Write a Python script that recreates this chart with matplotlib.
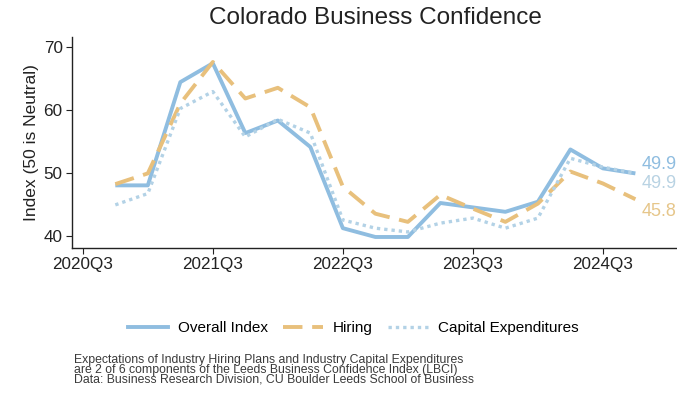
import matplotlib
matplotlib.use("Agg")
import matplotlib.pyplot as plt
from matplotlib.lines import Line2D

plt.rcParams['font.family'] = ['Liberation Sans', 'DejaVu Sans']

# Quarters 2020Q4 .. 2024Q4
quarters = ["2020Q4", "2021Q1", "2021Q2", "2021Q3", "2021Q4", "2022Q1", "2022Q2",
            "2022Q3", "2022Q4", "2023Q1", "2023Q2", "2023Q3", "2023Q4", "2024Q1",
            "2024Q2", "2024Q3", "2024Q4"]
overall = [48.0, 48.0, 64.4, 67.4, 56.3, 58.3, 54.1, 41.2, 39.8, 39.8, 45.2, 44.5,
           43.8, 45.4, 53.7, 50.7, 49.9]
hiring = [48.2, 49.9, 61.0, 67.6, 61.8, 63.5, 60.4, 47.8, 43.5, 42.2, 46.5, 44.3,
          42.2, 45.1, 50.2, 48.3, 45.8]
capex = [44.9, 46.7, 60.2, 62.9, 55.7, 58.5, 56.3, 42.5, 41.2, 40.6, 42.0, 42.8,
         41.2, 42.8, 52.3, 50.9, 49.9]
tick_labels = ["2020Q3", "2021Q3", "2022Q3", "2023Q3", "2024Q3"]
yticks = [40, 50, 60, 70]

def qnum(s):
    return int(s[:4]) + (int(s[-1]) - 1) / 4.0

x = [qnum(q) for q in quarters]
xt = [qnum(t) for t in tick_labels]

c_over = "#8fbde0"
c_hire = "#e8c07c"
c_cap = "#b3d2e6"

fig = plt.figure(figsize=(6.77, 4.0), dpi=100)
ax = fig.add_axes([0.106, 0.38, 0.894, 0.528])

ax.plot(x, overall, color=c_over, lw=2.8, solid_capstyle='butt')
ax.plot(x, hiring, color=c_hire, lw=2.8, dashes=(5, 2.5))
ax.plot(x, capex, color=c_cap, lw=2.4, linestyle=(0, (1, 1.2)))

ax.set_xlim(2020.415, 2025.07)
ax.set_ylim(38.05, 71.6)
ax.set_xticks(xt)
ax.set_xticklabels(tick_labels)
ax.set_yticks(yticks)
for s in ['top', 'right']:
    ax.spines[s].set_visible(False)
for s in ['left', 'bottom']:
    ax.spines[s].set_color('#222222')
    ax.spines[s].set_linewidth(1.0)
ax.tick_params(axis='both', labelsize=12.3, length=4.5, color='#222222', labelcolor='#222222', pad=2)
ax.set_ylabel("Index (50 is Neutral)", fontsize=12.5, color='#222222', labelpad=3)

# end labels
lab_specs = [(overall, c_over, 9), (capex, "#b9d3e3", -10), (hiring, "#e6c68a", -12)]
for series, col, dy in lab_specs:
    ax.annotate(f"{series[-1]:.1f}", xy=(x[-1], series[-1]), xytext=(6, dy),
                textcoords='offset pixels', color=col, fontsize=13,
                va='center', ha='left', annotation_clip=False)

fig.text(0.554, 0.955, "Colorado Business Confidence", ha='center', va='center',
         fontsize=17.5, color='#222222')

handles = [Line2D([], [], color=c_over, lw=2.8),
           Line2D([], [], color=c_hire, lw=2.8, dashes=(5, 2.5)),
           Line2D([], [], color=c_cap, lw=2.4, linestyle=(0, (1, 1.2)))]
fig.legend(handles, ["Overall Index", "Hiring", "Capital Expenditures"],
           loc='center', bbox_to_anchor=(0.522, 0.18), ncol=3, frameon=False,
           fontsize=11, handlelength=2.6, columnspacing=1.0, handletextpad=0.65)

note = ("Expectations of Industry Hiring Plans and Industry Capital Expenditures\n"
        "are 2 of 6 components of the Leeds Business Confidence Index (LBCI)\n"
        "Data: Business Research Division, CU Boulder Leeds School of Business")
fig.text(0.109, 0.036, note, ha='left', va='bottom', fontsize=8.8, color='#3a3a3a',
         linespacing=0.78)

fig.savefig("out.png", dpi=100)
